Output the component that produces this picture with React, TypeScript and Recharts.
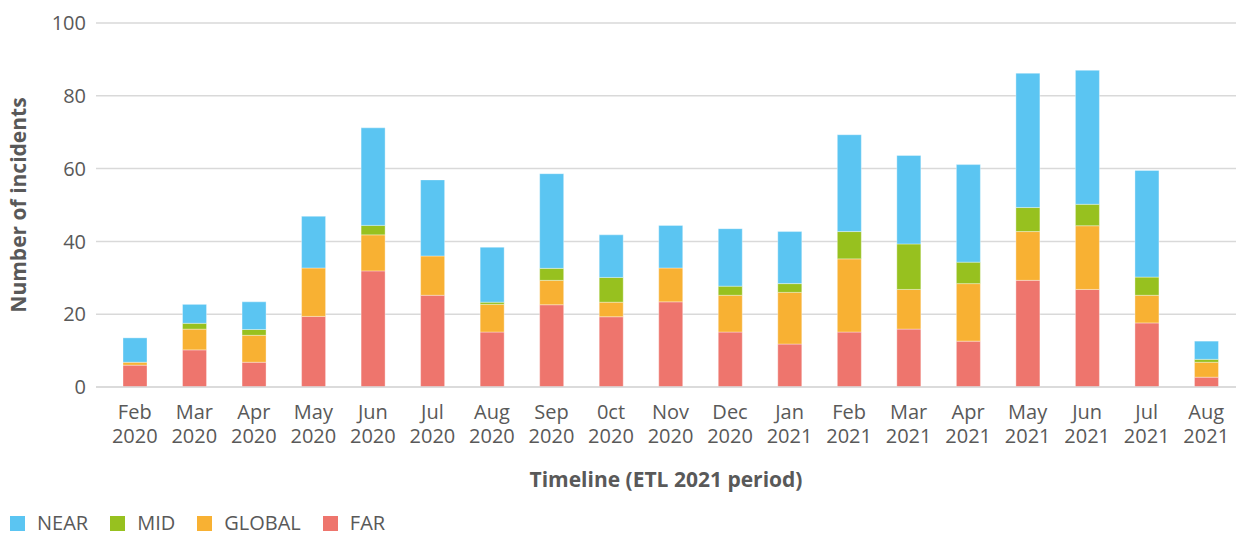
import React from 'react';
import { BarChart, Bar, XAxis, YAxis, CartesianGrid, Legend } from 'recharts';

const months = [
  'Feb 2020', 'Mar 2020', 'Apr 2020', 'May 2020', 'Jun 2020', 'Jul 2020', 'Aug 2020',
  'Sep 2020', '0ct 2020', 'Nov 2020', 'Dec 2020', 'Jan 2021', 'Feb 2021', 'Mar 2021',
  'Apr 2021', 'May 2021', 'Jun 2021', 'Jul 2021', 'Aug 2021',
];

const far = [6, 10.2, 6.8, 19.4, 31.9, 25.2, 15.1, 22.6, 19.3, 23.4, 15.1, 11.8, 15.1, 15.9, 12.6, 29.3, 26.8, 17.6, 2.7];
const globalVals = [0.8, 5.7, 7.4, 13.3, 9.9, 10.8, 7.6, 6.7, 4.0, 9.3, 10.1, 14.2, 20.1, 10.9, 15.8, 13.4, 17.5, 7.6, 4.1];
const mid = [0, 1.6, 1.6, 0, 2.6, 0, 0.6, 3.3, 6.8, 0, 2.5, 2.4, 7.5, 12.5, 5.9, 6.6, 5.9, 5.0, 0.8];
const near = [6.7, 5.2, 7.6, 14.2, 26.8, 20.9, 15.1, 26.0, 11.7, 11.7, 15.8, 14.3, 26.6, 24.3, 26.8, 36.9, 36.8, 29.3, 5.0];

const yTicks = [0, 20, 40, 60, 80, 100];

// legend order (top of stack first)
const series = [
  { key: 'NEAR', color: '#5bc5f2' },
  { key: 'MID', color: '#97c11f' },
  { key: 'GLOBAL', color: '#f8b133' },
  { key: 'FAR', color: '#ee756d' },
];

const data = months.map((m, i) => ({
  month: m,
  FAR: far[i],
  GLOBAL: globalVals[i],
  MID: mid[i],
  NEAR: near[i],
}));

const FONT = '"Open Sans", sans-serif';
const TEXT = '#595959';

const MonthTick = (props: any) => {
  const { x, y, payload } = props;
  const [mon, yr] = String(payload.value).split(' ');
  return (
    <g transform={`translate(${x},${y})`}>
      <text textAnchor="middle" fontFamily={FONT} fontSize={20} fill={TEXT}>
        <tspan x={0} dy={32}>{mon}</tspan>
        <tspan x={0} dy={24}>{yr}</tspan>
      </text>
    </g>
  );
};

const YTitle = (props: any) => {
  const vb = props.viewBox;
  const cx = vb.x + 18;
  const cy = vb.y + vb.height / 2;
  return (
    <text
      x={cx}
      y={cy}
      transform={`rotate(-90, ${cx}, ${cy})`}
      textAnchor="middle"
      dominantBaseline="central"
      fontFamily={FONT}
      fontSize={21}
      fontWeight={700}
      fill={TEXT}
    >
      Number of incidents
    </text>
  );
};

const LegendBox = () => (
  <div
    style={{
      height: 38,
      boxSizing: 'border-box',
      paddingTop: 14,
      paddingLeft: 10,
      display: 'flex',
      fontFamily: FONT,
      fontSize: 20,
      lineHeight: '20px',
      color: TEXT,
    }}
  >
    {series.map((s) => (
      <div key={s.key} style={{ display: 'flex', alignItems: 'center', marginRight: 22 }}>
        <span style={{ width: 15, height: 15, background: s.color, marginRight: 12, display: 'inline-block' }} />
        <span>{s.key}</span>
      </div>
    ))}
  </div>
);

export default function App() {
  return (
    <div style={{ position: 'absolute', left: 0, top: 0, background: '#fff' }}>
      <BarChart width={1236} height={535} data={data} margin={{ top: 23, right: 0, left: 0, bottom: 0 }}>
        <CartesianGrid vertical={false} stroke="#d9d9d9" strokeWidth={1.5} />
        <XAxis
          dataKey="month"
          height={110}
          padding={{ left: 9, right: 0 }}
          tickLine={false}
          tickSize={0}
          tickMargin={0}
          axisLine={{ stroke: '#d9d9d9', strokeWidth: 1.5 }}
          tick={<MonthTick />}
          interval={0}
          label={{
            value: 'Timeline (ETL 2021 period)',
            position: 'insideBottom',
            offset: 10,
            fontFamily: FONT,
            fontSize: 21,
            fontWeight: 700,
            fill: TEXT,
          }}
        />
        <YAxis
          width={96}
          domain={[0, 100]}
          ticks={yTicks}
          axisLine={false}
          tickLine={false}
          tickSize={0}
          tickMargin={10}
          tick={{ fontFamily: FONT, fontSize: 20, fill: TEXT }}
          label={<YTitle />}
        />
        <Legend verticalAlign="bottom" align="left" height={38} content={<LegendBox />} />
        <Bar dataKey="FAR" stackId="a" fill="#ee756d" barSize={24} stroke="#ffffff" strokeOpacity={0.35} isAnimationActive={false} />
        <Bar dataKey="GLOBAL" stackId="a" fill="#f8b133" barSize={24} stroke="#ffffff" strokeOpacity={0.35} isAnimationActive={false} />
        <Bar dataKey="MID" stackId="a" fill="#97c11f" barSize={24} stroke="#ffffff" strokeOpacity={0.35} isAnimationActive={false} />
        <Bar dataKey="NEAR" stackId="a" fill="#5bc5f2" barSize={24} stroke="#ffffff" strokeOpacity={0.35} isAnimationActive={false} />
      </BarChart>
    </div>
  );
}
